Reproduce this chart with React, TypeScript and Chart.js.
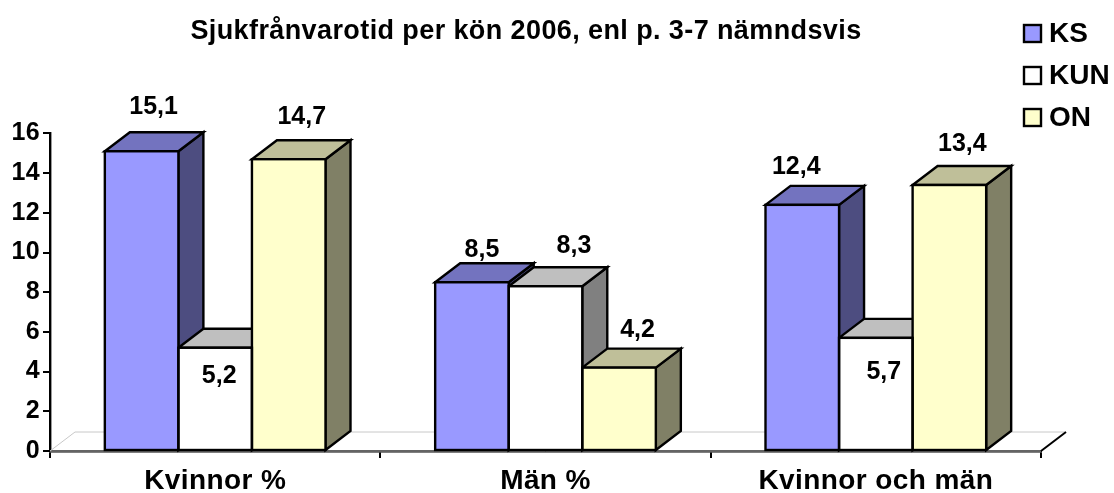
import React, { useEffect, useRef } from "react";
import { Chart, registerables } from "chart.js";

Chart.register(...registerables);

const categories = ["Kvinnor %", "Män %", "Kvinnor och män"];
const seriesNames = ["KS", "KUN", "ON"];
const ksValues = [15.1, 8.5, 12.4];
const kunValues = [5.2, 8.3, 5.7];
const onValues = [14.7, 4.2, 13.4];
const yTicks = [0, 2, 4, 6, 8, 10, 12, 14, 16];

const frontColors = ["#9999FF", "#FFFFFF", "#FFFFCC"];
const topColors = ["#7373BF", "#BFBFBF", "#BFBF99"];
const sideColors = ["#4D4D80", "#808080", "#808066"];

// label placement relative to a bar's front-top centre
const labelShift = [
  [[12, -44.5], [10, -32.5], [-6, -37.5]],
  [[4, 28.5], [28.5, -40.5], [8, 34.5]],
  [[13, -42], [18.5, -37.5], [13, -40.5]],
];

const DX = 25;
const DY = 19;
const LINE = 2.4;
const FONT = "'Liberation Sans', Arial, sans-serif";

const poly = (ctx: CanvasRenderingContext2D, pts: number[][], fill: string | null, stroke: string, lw: number) => {
  ctx.beginPath();
  pts.forEach((p, i) => (i ? ctx.lineTo(p[0], p[1]) : ctx.moveTo(p[0], p[1])));
  ctx.closePath();
  if (fill) {
    ctx.fillStyle = fill;
    ctx.fill();
  }
  ctx.lineWidth = lw;
  ctx.strokeStyle = stroke;
  ctx.lineJoin = "miter";
  ctx.stroke();
};

const spacingPlugin = {
  id: "spacing",
  beforeDraw(chart: any) {
    chart.ctx.letterSpacing = "0.4px";
  },
};

const titleShift = {
  id: "titleShift",
  afterLayout(chart: any) {
    const t = chart.titleBlock;
    if (t) {
      t.left += 5.5;
      t.right += 5.5;
    }
  },
};

const depthPlugin = {
  id: "depth",
  beforeDatasetsDraw(chart: any) {
    const { ctx, chartArea: a } = chart;
    ctx.save();
    poly(ctx, [[a.left, a.bottom], [a.left + DX, a.bottom - DY], [a.right + DX, a.bottom - DY], [a.right, a.bottom]], null, "#C8C8C8", 1);
    ctx.beginPath();
    ctx.moveTo(a.right, a.bottom);
    ctx.lineTo(a.right + DX, a.bottom - DY);
    ctx.lineWidth = 2;
    ctx.strokeStyle = "#000";
    ctx.stroke();
    const n = chart.data.labels.length;
    for (let i = 0; i < n; i++) {
      chart.data.datasets.forEach((_: any, d: number) => {
        const b = chart.getDatasetMeta(d).data[i];
        const l = b.x - b.width / 2;
        const r = b.x + b.width / 2;
        poly(ctx, [[r, b.y], [r + DX, b.y - DY], [r + DX, b.base - DY], [r, b.base]], sideColors[d], "#000", LINE);
        poly(ctx, [[l, b.y], [l + DX, b.y - DY], [r + DX, b.y - DY], [r, b.y]], topColors[d], "#000", LINE);
      });
    }
    ctx.restore();
  },
};

const overlayPlugin = {
  id: "overlay",
  afterDatasetsDraw(chart: any) {
    const { ctx } = chart;
    ctx.save();
    ctx.letterSpacing = "0px";
    // front outlines, centred on the bar edges
    chart.data.datasets.forEach((_: any, d: number) => {
      chart.getDatasetMeta(d).data.forEach((b: any) => {
        ctx.lineWidth = LINE;
        ctx.strokeStyle = "#000";
        ctx.strokeRect(b.x - b.width / 2, b.y, b.width, b.base - b.y);
      });
    });
    ctx.font = `bold 25px ${FONT}`;
    ctx.fillStyle = "#000";
    ctx.textAlign = "center";
    ctx.textBaseline = "middle";
    chart.data.datasets.forEach((ds: any, d: number) => {
      chart.getDatasetMeta(d).data.forEach((b: any, i: number) => {
        const [sx, sy] = labelShift[d][i];
        ctx.fillText(String(ds.data[i]).replace(".", ","), b.x + sx, b.y + sy);
      });
    });
    // legend
    ctx.font = `bold 28px ${FONT}`;
    ctx.textAlign = "left";
    chart.data.datasets.forEach((ds: any, d: number) => {
      const y = 34 + d * 42;
      ctx.fillStyle = ds.backgroundColor;
      ctx.fillRect(1024, y - 9, 17, 17);
      ctx.lineWidth = LINE;
      ctx.strokeStyle = "#000";
      ctx.strokeRect(1024, y - 9, 17, 17);
      ctx.fillStyle = "#000";
      ctx.fillText(ds.label, 1049, y);
    });
    ctx.restore();
  },
};

export default function App() {
  const ref = useRef<HTMLCanvasElement | null>(null);
  useEffect(() => {
    const series = [ksValues, kunValues, onValues];
    const chart = new Chart(ref.current as HTMLCanvasElement, {
      type: "bar",
      data: {
        labels: categories,
        datasets: series.map((data, d) => ({
          label: seriesNames[d],
          data,
          backgroundColor: frontColors[d],
          borderWidth: 0,
          barPercentage: 1,
          categoryPercentage: 0.668,
        })),
      },
      options: {
        responsive: false,
        animation: false,
        layout: { padding: { left: 0, right: 73, top: 0, bottom: 0 } },
        plugins: {
          legend: { display: false },
          tooltip: { enabled: false },
          title: {
            display: true,
            text: "Sjukfrånvarotid per kön 2006, enl p. 3-7 nämndsvis",
            color: "#000",
            font: { family: FONT, size: 27, weight: "bold", lineHeight: 1.2 },
            padding: { top: 15, bottom: 86 },
          },
        },
        scales: {
          x: {
            offset: true,
            afterFit: (s: any) => {
              s.height = 42;
            },
            grid: { offset: true, drawOnChartArea: false, color: "#000", lineWidth: 2, tickLength: 7, tickColor: "#000" },
            border: { color: "#000", width: 2.4 },
            ticks: { color: "#000", font: { family: FONT, size: 28, weight: "bold" }, padding: 6, maxRotation: 0 },
          },
          y: {
            min: 0,
            max: 16,
            afterFit: (s: any) => {
              s.width = 50;
            },
            afterBuildTicks: (s: any) => {
              s.ticks = yTicks.map((value) => ({ value }));
            },
            grid: { drawOnChartArea: false, color: "#000", lineWidth: 2, tickLength: 7, tickColor: "#000" },
            border: { color: "#000", width: 2.4 },
            ticks: { color: "#000", font: { family: FONT, size: 25, weight: "bold" }, padding: 3 },
          },
        },
      },
      plugins: [spacingPlugin, titleShift, depthPlugin, overlayPlugin],
    } as any);
    return () => chart.destroy();
  }, []);
  return (
    <canvas
      ref={ref}
      width={1114}
      height={493}
      style={{ position: "absolute", left: 0, top: 0, display: "block", width: 1114, height: 493 }}
    />
  );
}
